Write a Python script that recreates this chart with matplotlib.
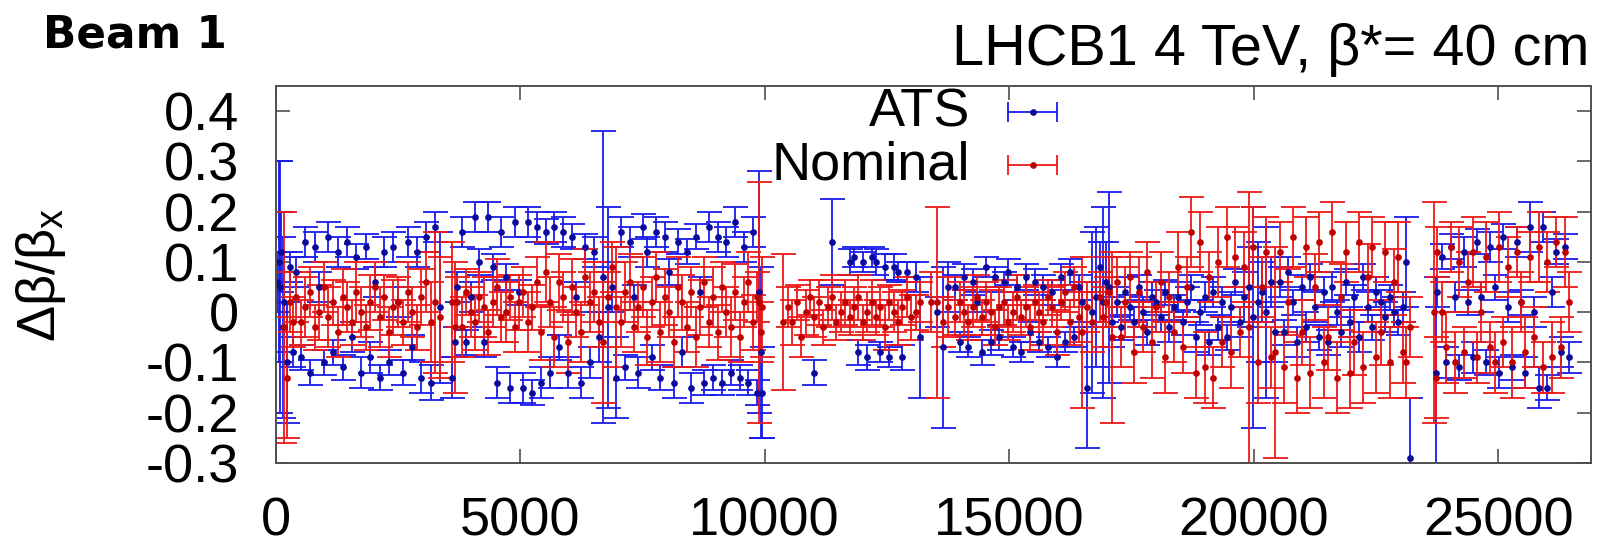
import numpy as np
import matplotlib
matplotlib.use("Agg")
import matplotlib.pyplot as plt

nan = np.nan

# BPM longitudinal positions (m), one line per region (IR / arc)
s_bpm = [
    30, 60, 90, 120, 150, 180, 230, 290, 350,
    420, 520, 610, 700, 800, 890, 990, 1080, 1180, 1270, 1370, 1460, 1560, 1650, 1750, 1840,
    1940, 2030, 2130, 2220, 2320, 2410, 2510, 2600, 2700, 2790, 2890, 2980, 3080, 3170, 3270, 3360,
    3610, 3660,
    3720, 3810, 3900, 3990, 4080, 4170, 4260, 4350, 4440, 4530, 4620, 4710, 4800, 4890, 4980, 5070,
    5160, 5250, 5340, 5430, 5520, 5610, 5700, 5790, 5880, 5970, 6060, 6150, 6240, 6330, 6420,
    6520, 6610, 6700, 6790, 6880, 6970,
    7060, 7150, 7240, 7330, 7420, 7510, 7600, 7690, 7780, 7870, 7960, 8050, 8140, 8230, 8320, 8410,
    8500, 8590, 8680, 8770, 8860, 8950, 9040, 9130, 9220, 9310, 9400, 9490, 9580, 9670, 9760, 9850,
    9890, 9920, 9950, 10380,
    10480, 10570, 10660, 10750, 10840, 10930, 11020, 11110, 11200, 11290, 11380, 11470, 11560, 11650, 11740, 11830,
    11920, 12010, 12100, 12190, 12280, 12370, 12460, 12550, 12640, 12730, 12820, 12910, 13000, 13090, 13180,
    13400, 13520, 13640, 13760,
    13900, 13990, 14080, 14170, 14260, 14350, 14440, 14530, 14620, 14710, 14800, 14890, 14980, 15070, 15160,
    15250, 15340, 15430, 15520, 15610, 15700, 15790, 15880, 15970, 16060, 16150, 16240, 16330, 16420,
    16500, 16590, 16690, 16780, 16860, 16920, 16980, 17040, 17110,
    17200, 17290, 17380, 17470, 17560, 17650, 17740, 17830, 17920, 18010, 18100, 18190, 18280, 18370, 18460,
    18550, 18640, 18730, 18820, 18910, 19000, 19090, 19180, 19270, 19360, 19450, 19540, 19630, 19720,
    19800, 19900, 19990, 20080, 20170, 20260, 20350, 20440,
    20530, 20620, 20710, 20800, 20890, 20980, 21070, 21160, 21250, 21340, 21430, 21520, 21610, 21700, 21790,
    21880, 21970, 22060, 22150, 22240, 22330, 22420, 22510, 22600, 22690, 22780, 22870, 22960, 23050,
    23110, 23190,
    23690, 23720,
    23760, 23850, 23940, 24030, 24120, 24210, 24300, 24390, 24480, 24570, 24660, 24750, 24840, 24930, 25020, 25110,
    25200, 25290, 25380, 25470, 25560, 25650, 25740, 25830, 25920, 26010, 26100, 26190, 26280, 26370, 26460,
]

# ATS optics: relative beta-beating and error
ats_dbb = [
    0.06, 0.10, 0.05, 0.12, -0.03, 0.02, -0.10, 0.09, -0.08,
    0.08, -0.09, 0.14, -0.12, 0.13, 0.05, -0.10, 0.15, -0.08, 0.12, -0.11, 0.14, -0.05, 0.11, -0.12, 0.13,
    -0.09, 0.06, -0.13, 0.12, -0.10, 0.13, 0.02, -0.12, 0.14, -0.07, 0.12, -0.13, 0.15, -0.14, 0.17, 0.01,
    -0.13, -0.06,
    0.05, 0.16, -0.06, 0.03, 0.19, 0.10, -0.06, 0.19, 0.09, -0.14, 0.16, 0.07, -0.15, 0.18, 0.04, -0.15,
    0.18, -0.16, 0.17, -0.14, 0.16, -0.12, 0.17, -0.07, 0.16, -0.12, 0.15, 0.03, -0.14, 0.13, -0.10,
    0.12, -0.05, 0.07, 0.01, 0.05, -0.13,
    0.16, -0.11, 0.14, 0.03, -0.12, 0.17, 0.12, -0.09, 0.16, -0.13, 0.15, 0.08, -0.14, 0.14, -0.08, 0.12,
    -0.15, 0.15, 0.04, -0.14, 0.17, -0.13, 0.15, -0.14, 0.14, -0.12, 0.18, -0.13, 0.13, -0.14, 0.16, -0.16,
    0.04, -0.08, -0.16, nan,
    nan, nan, nan, nan, nan, nan, -0.12, nan, nan, nan, 0.14, nan, nan, nan, 0.10, 0.11,
    -0.08, 0.10, -0.09, 0.11, 0.10, -0.08, 0.09, -0.09, 0.09, 0.08, -0.09, 0.08, nan, 0.07, -0.05,
    nan, 0.00, -0.07, 0.05,
    0.05, -0.06, 0.07, -0.07, 0.06, 0.02, -0.08, 0.09, -0.06, 0.07, -0.05, 0.06, 0.08, -0.07, 0.05,
    -0.08, 0.07, -0.04, 0.06, -0.06, 0.05, -0.07, 0.04, -0.09, 0.07, -0.06, 0.08, -0.05, 0.05,
    0.02, -0.15, 0.00, 0.03, 0.09, 0.02, 0.06, 0.05, -0.02,
    0.02, -0.03, 0.04, 0.01, -0.02, 0.05, 0.00, -0.04, 0.03, 0.02, -0.01, 0.04, -0.03, 0.01, 0.03,
    -0.02, 0.02, 0.05, -0.05, 0.00, 0.03, -0.06, 0.04, -0.03, 0.02, -0.05, 0.01, 0.06, -0.02,
    0.03, 0.05, -0.01, 0.02, 0.04, 0.00, 0.06, -0.04,
    0.06, -0.04, 0.08, 0.02, -0.06, 0.05, -0.03, 0.07, 0.01, -0.05, 0.04, -0.06, 0.05, 0.00, -0.04,
    0.06, -0.02, 0.03, -0.05, 0.07, 0.01, -0.03, 0.04, 0.02, -0.01, 0.03, 0.00, -0.02, 0.01,
    0.10, -0.29,
    nan, -0.12,
    0.04, 0.11, -0.10, 0.13, 0.03, -0.11, 0.12, 0.02, -0.09, 0.14, 0.03, -0.10, 0.13, 0.05, -0.12, 0.15,
    0.01, -0.11, 0.14, 0.02, -0.12, 0.17, 0.00, -0.15, 0.17, -0.15, 0.04, 0.12, -0.08, 0.13, -0.09,
]
ats_err = [
    0.06, 0.20, 0.25, 0.08, 0.18, 0.10, 0.12, 0.03, 0.03,
    0.03, 0.025, 0.03, 0.025, 0.03, 0.03, 0.025, 0.03, 0.025, 0.03, 0.025, 0.03, 0.03, 0.025, 0.03, 0.025,
    0.03, 0.03, 0.025, 0.03, 0.025, 0.03, 0.03, 0.025, 0.03, 0.025, 0.03, 0.03, 0.03, 0.035, 0.03, 0.15,
    0.04, 0.03,
    0.03, 0.03, 0.025, 0.03, 0.03, 0.025, 0.03, 0.03, 0.025, 0.03, 0.03, 0.025, 0.03, 0.03, 0.025, 0.03,
    0.03, 0.025, 0.03, 0.03, 0.025, 0.03, 0.03, 0.025, 0.03, 0.03, 0.025, 0.03, 0.03, 0.025, 0.03,
    0.03, 0.05, 0.29, 0.20, 0.05, 0.08,
    0.03, 0.025, 0.03, 0.025, 0.03, 0.025, 0.03, 0.025, 0.03, 0.025, 0.03, 0.025, 0.03, 0.025, 0.03, 0.025,
    0.03, 0.025, 0.03, 0.025, 0.03, 0.025, 0.03, 0.025, 0.03, 0.025, 0.03, 0.025, 0.03, 0.025, 0.03, 0.025,
    0.24, 0.17, 0.09, 0.0,
    0.0, 0.0, 0.0, 0.0, 0.0, 0.0, 0.025, 0.0, 0.0, 0.0, 0.085, 0.0, 0.0, 0.0, 0.025, 0.02,
    0.025, 0.02, 0.025, 0.02, 0.025, 0.02, 0.025, 0.02, 0.025, 0.02, 0.025, 0.02, 0.0, 0.03, 0.12,
    0.0, 0.03, 0.16, 0.05,
    0.025, 0.02, 0.025, 0.02, 0.025, 0.02, 0.025, 0.02, 0.025, 0.02, 0.025, 0.02, 0.025, 0.02, 0.025,
    0.02, 0.025, 0.02, 0.025, 0.02, 0.025, 0.02, 0.025, 0.02, 0.025, 0.02, 0.025, 0.02, 0.025,
    0.04, 0.12, 0.16, 0.14, 0.05, 0.19, 0.08, 0.19, 0.05,
    0.03, 0.025, 0.03, 0.025, 0.03, 0.025, 0.03, 0.025, 0.03, 0.025, 0.03, 0.025, 0.03, 0.025, 0.03,
    0.025, 0.03, 0.025, 0.03, 0.025, 0.03, 0.025, 0.03, 0.025, 0.03, 0.025, 0.03, 0.025, 0.03,
    0.05, 0.08, 0.22, 0.12, 0.06, 0.17, 0.05, 0.06,
    0.03, 0.025, 0.03, 0.025, 0.03, 0.025, 0.03, 0.025, 0.03, 0.025, 0.03, 0.025, 0.03, 0.025, 0.03,
    0.025, 0.03, 0.025, 0.03, 0.025, 0.03, 0.025, 0.03, 0.025, 0.03, 0.025, 0.03, 0.025, 0.03,
    0.09, 0.12,
    0.0, 0.19,
    0.03, 0.025, 0.03, 0.025, 0.03, 0.025, 0.03, 0.025, 0.03, 0.025, 0.03, 0.025, 0.03, 0.025, 0.03, 0.025,
    0.03, 0.025, 0.03, 0.025, 0.03, 0.05, 0.03, 0.04, 0.03, 0.025, 0.03, 0.025, 0.03, 0.025, 0.03,
]

# Nominal optics: relative beta-beating and error
nom_dbb = [
    nan, nan, nan, nan, nan, -0.03, -0.13, 0.02, -0.02,
    0.03, -0.02, 0.01, 0.04, -0.03, 0.00, 0.05, -0.01, 0.02, -0.04, 0.03, 0.01, -0.02, 0.04, 0.00, -0.03,
    0.02, 0.05, -0.01, 0.03, -0.04, 0.01, 0.02, -0.02, 0.04, 0.00, -0.03, 0.03, 0.06, -0.02, 0.02, -0.01,
    0.02, -0.03,
    0.02, -0.03, 0.04, 0.00, -0.02, 0.03, 0.01, -0.04, 0.02, 0.05, -0.01, 0.00, 0.03, -0.03, 0.02, 0.04,
    -0.02, 0.01, 0.06, -0.04, 0.08, 0.02, -0.05, 0.06, 0.03, -0.06, 0.05, 0.00, -0.04, 0.07, 0.02,
    0.04, -0.02, -0.06, 0.03, 0.09, 0.01,
    -0.02, 0.04, 0.06, -0.03, 0.01, 0.05, -0.05, 0.02, 0.07, -0.04, 0.03, 0.00, -0.06, 0.05, 0.02, -0.03,
    0.04, -0.05, 0.01, 0.06, -0.02, 0.03, -0.04, 0.05, 0.00, -0.03, 0.04, -0.05, 0.02, 0.06, -0.02, 0.03,
    0.02, -0.04, 0.01, -0.02,
    0.01, -0.02, 0.02, -0.05, 0.00, 0.03, -0.01, 0.02, -0.03, 0.01, 0.03, -0.02, 0.00, 0.02, -0.01, 0.01,
    0.03, -0.02, 0.00, 0.02, -0.01, 0.01, -0.03, 0.02, 0.00, -0.02, 0.01, 0.03, -0.01, 0.00, 0.02,
    0.02, 0.02, -0.02, 0.01,
    -0.01, 0.02, 0.00, -0.02, 0.01, 0.03, -0.01, 0.02, 0.00, -0.03, 0.01, 0.02, -0.02, 0.00, 0.03,
    -0.01, 0.01, -0.03, 0.02, 0.00, -0.02, 0.03, 0.01, -0.04, 0.02, 0.04, -0.02, 0.05, -0.01,
    -0.04, 0.01, -0.02, nan, 0.03, -0.01, 0.02, 0.04, -0.05,
    0.06, -0.05, 0.02, 0.07, -0.08, 0.04, -0.03, 0.08, -0.06, 0.01, 0.06, -0.09, 0.03, -0.04, 0.09,
    -0.07, 0.05, 0.16, -0.12, 0.14, -0.11, 0.07, -0.13, 0.10, -0.06, 0.15, -0.08, 0.11, -0.04,
    0.09, -0.03, 0.13, -0.10, 0.05, 0.12, -0.09, -0.08,
    0.12, -0.11, 0.02, 0.15, -0.13, -0.04, 0.13, -0.12, 0.05, 0.14, -0.10, -0.05, 0.16, -0.13, 0.03,
    0.12, -0.12, -0.06, 0.14, -0.11, 0.07, 0.13, -0.09, -0.04, 0.12, -0.10, 0.06, 0.11, -0.08,
    -0.10, -0.03,
    0.00, -0.13,
    0.12, 0.00, -0.07, 0.13, -0.10, 0.10, -0.08, 0.06, 0.12, -0.09, 0.00, 0.11, -0.07, -0.10, 0.13, -0.06,
    0.09, -0.10, 0.12, 0.02, -0.08, 0.11, -0.05, 0.13, -0.11, 0.10, -0.09, 0.14, -0.07, 0.12, 0.02,
]
nom_err = [
    0.0, 0.0, 0.0, 0.0, 0.0, 0.23, 0.12, 0.06, 0.05,
    0.05, 0.045, 0.06, 0.05, 0.045, 0.055, 0.05, 0.06, 0.045, 0.05, 0.055, 0.05, 0.045, 0.06, 0.05, 0.045,
    0.055, 0.05, 0.06, 0.045, 0.05, 0.055, 0.05, 0.045, 0.06, 0.05, 0.045, 0.055, 0.06, 0.08, 0.14, 0.12,
    0.12, 0.13,
    0.05, 0.06, 0.045, 0.05, 0.055, 0.05, 0.06, 0.045, 0.05, 0.055, 0.05, 0.06, 0.045, 0.05, 0.055, 0.05,
    0.06, 0.045, 0.05, 0.055, 0.06, 0.05, 0.06, 0.055, 0.05, 0.06, 0.055, 0.05, 0.06, 0.055, 0.06,
    0.06, 0.05, 0.12, 0.05, 0.05, 0.12,
    0.05, 0.06, 0.055, 0.05, 0.05, 0.06, 0.055, 0.05, 0.05, 0.06, 0.055, 0.05, 0.05, 0.06, 0.055, 0.05,
    0.05, 0.06, 0.055, 0.05, 0.05, 0.06, 0.055, 0.05, 0.05, 0.06, 0.055, 0.05, 0.05, 0.06, 0.055, 0.05,
    0.24, 0.06, 0.10, 0.135,
    0.04, 0.045, 0.035, 0.04, 0.045, 0.035, 0.04, 0.045, 0.035, 0.04, 0.045, 0.035, 0.04, 0.045, 0.035, 0.04,
    0.045, 0.035, 0.04, 0.045, 0.035, 0.04, 0.045, 0.035, 0.04, 0.045, 0.035, 0.04, 0.045, 0.035, 0.04,
    0.06, 0.19, 0.05, 0.06,
    0.035, 0.04, 0.045, 0.035, 0.04, 0.045, 0.035, 0.04, 0.045, 0.035, 0.04, 0.045, 0.035, 0.04, 0.045,
    0.035, 0.04, 0.045, 0.035, 0.04, 0.045, 0.035, 0.04, 0.045, 0.035, 0.04, 0.045, 0.04, 0.05,
    0.15, 0.05, 0.06, 0.0, 0.05, 0.06, 0.05, 0.07, 0.17,
    0.05, 0.06, 0.07, 0.05, 0.06, 0.07, 0.05, 0.06, 0.07, 0.05, 0.06, 0.07, 0.05, 0.06, 0.07,
    0.05, 0.06, 0.07, 0.05, 0.06, 0.07, 0.05, 0.06, 0.07, 0.05, 0.06, 0.07, 0.06, 0.05,
    0.07, 0.27, 0.08, 0.08, 0.06, 0.07, 0.06, 0.21,
    0.06, 0.07, 0.065, 0.06, 0.07, 0.065, 0.06, 0.07, 0.065, 0.06, 0.07, 0.065, 0.06, 0.07, 0.065,
    0.06, 0.07, 0.065, 0.06, 0.07, 0.065, 0.06, 0.07, 0.065, 0.06, 0.07, 0.065, 0.07, 0.06,
    0.07, 0.06,
    0.22, 0.08,
    0.05, 0.06, 0.07, 0.05, 0.06, 0.07, 0.05, 0.06, 0.07, 0.05, 0.06, 0.07, 0.05, 0.06, 0.07, 0.05,
    0.06, 0.07, 0.05, 0.06, 0.07, 0.05, 0.06, 0.07, 0.05, 0.06, 0.07, 0.05, 0.06, 0.07, 0.06,
]

assert len(s_bpm) == len(ats_dbb) == len(ats_err) == len(nom_dbb) == len(nom_err)

x_ticks = [0, 5000, 10000, 15000, 20000, 25000]
y_ticks = [-0.3, -0.2, -0.1, 0, 0.1, 0.2, 0.3, 0.4]
y_ticklabels = ['-0.3', '-0.2', '-0.1', '0', '0.1', '0.2', '0.3', '0.4']

plt.rcParams['font.family'] = ['Liberation Sans', 'DejaVu Sans']
plt.rcParams['mathtext.fontset'] = 'custom'
plt.rcParams['mathtext.rm'] = 'Liberation Sans'
plt.rcParams['axes.unicode_minus'] = False

fig = plt.figure(figsize=(16.04, 5.46), dpi=100)
ax = fig.add_axes([0.1718, 0.152, 0.8201, 0.6905])

blue, blue_dot = '#1a1aee', '#0a0a9a'
red, red_dot = '#f01818', '#c00000'

ax.errorbar(s_bpm, ats_dbb, yerr=ats_err, fmt='o', ms=3.8, color=blue_dot,
            ecolor=blue, elinewidth=1.3, capsize=9, capthick=1.3)
ax.errorbar(s_bpm, nom_dbb, yerr=nom_err, fmt='o', ms=3.8, color=red_dot,
            ecolor=red, elinewidth=1.3, capsize=9, capthick=1.3)

ax.set_xlim(0, 26900)
ax.set_ylim(-0.3, 0.45)
ax.set_xticks(x_ticks)
ax.set_yticks(y_ticks, y_ticklabels)

frame = '#505050'
for sp in ax.spines.values():
    sp.set_color(frame)
    sp.set_linewidth(1.4)
ax.tick_params(direction='in', length=10, width=1.2, color=frame,
               top=True, right=True, labelsize=39)
ax.tick_params(axis='y', pad=26)
ax.tick_params(axis='x', pad=24)

ax.set_ylabel('Δβ/β$_\\mathrm{x}$', fontsize=39)
ax.yaxis.set_label_coords(-0.158, 0.5)

# gnuplot-style key: text right-aligned, horizontal error-bar sample
for label, yk, c_line, c_dot in [('ATS', 0.931, blue, blue_dot), ('Nominal', 0.790, red, red_dot)]:
    ax.text(0.528, yk, label, transform=ax.transAxes, ha='right', va='center', fontsize=39)
    ax.plot([0.557, 0.594], [yk, yk], color=c_line, lw=1.3, transform=ax.transAxes, clip_on=False)
    ax.plot([0.557, 0.594], [yk, yk], ls='none', marker='|', ms=14, mew=1.3, color=c_line,
            transform=ax.transAxes, clip_on=False)
    ax.plot([0.5755], [yk], marker='o', ms=3.8, color=c_dot, transform=ax.transAxes, clip_on=False)

fig.text(1589 / 1604, 1 - 65 / 546, 'LHCB1 4 TeV, β*= 40 cm', ha='right', va='baseline', fontsize=41.5)
fig.text(43 / 1604, 1 - 47 / 546, 'Beam 1', ha='left', va='baseline', fontsize=31.5,
         fontweight='bold', family='DejaVu Sans')

fig.savefig('out.png', dpi=100)
